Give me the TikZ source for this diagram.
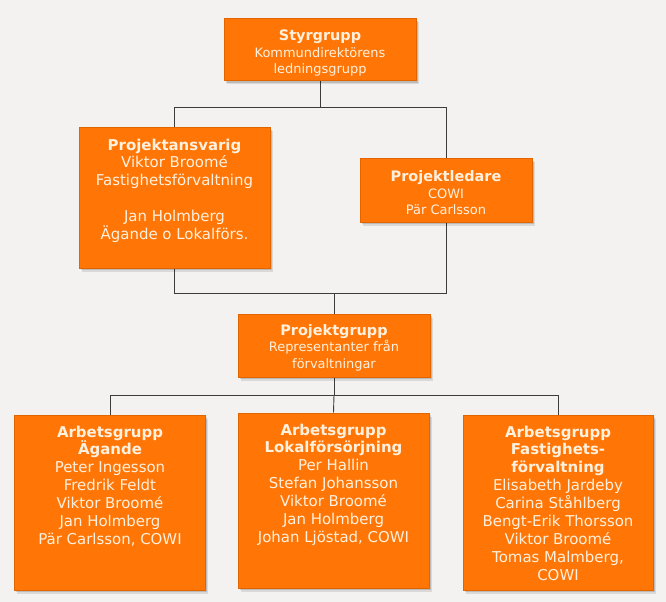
\documentclass[tikz,border=0pt]{standalone}
\usepackage{fontspec}
\setmainfont{DejaVu Sans}
\definecolor{bgc}{HTML}{F3F2F0}
\definecolor{boxc}{HTML}{FF7607}
\definecolor{rimc}{HTML}{E26500}
\definecolor{txtc}{HTML}{FFF1DE}
\definecolor{linec}{HTML}{3C3C3C}
\pgfdeclarelayer{bg}
\pgfdeclarelayer{lines}
\pgfsetlayers{bg,lines,main}
\tikzset{
  orgbox/.style={draw=rimc, line width=1bp, fill=boxc, inner sep=0pt,
    preaction={fill=black, opacity=0.10, transform canvas={xshift=2.5bp, yshift=-3.5bp}},
    preaction={fill=black, opacity=0.14, transform canvas={xshift=1.5bp, yshift=-2.2bp}}},
  lbl/.style={text=txtc, align=center, inner sep=0pt},
  smallfont/.style={font=\fontsize{13}{16.5}\selectfont},
  bigfont/.style={font=\fontsize{15}{18}\selectfont},
  conn/.style={draw=linec, line width=0.9bp},
}
\newcommand\ttlA[1]{{\bfseries\fontsize{14.5}{16.5}\selectfont #1}}
\newcommand\ttlB[1]{{\bfseries #1}}
\begin{document}
\begin{tikzpicture}[x=1bp,y=-1bp]
\begin{pgfonlayer}{bg}
  \fill[bgc] (0,0) rectangle (666,602);
\end{pgfonlayer}
\useasboundingbox (0,0) rectangle (666,602);

% boxes
\node[orgbox, minimum width=192bp, minimum height=62bp] (sty) at (320,50) {};
\node[lbl, smallfont] (styt) at ([yshift=-3bp]sty.center) {\ttlA{Styrgrupp}\\Kommundirektörens\\ledningsgrupp};

\node[orgbox, minimum width=191bp, minimum height=140bp] (pa) at (174.5,198) {};
\node[lbl, bigfont, anchor=north] (pat) at ([yshift=-11bp]pa.north) {\ttlB{Projektansvarig}\\Viktor Broomé\\Fastighetsförvaltning\\[18bp]Jan Holmberg\\Ägande o Lokalförs.};

\node[orgbox, minimum width=172bp, minimum height=63bp] (pl) at (446,190.5) {};
\node[lbl, smallfont] (plt) at ([yshift=-2.5bp]pl.center) {\ttlA{Projektledare}\\COWI\\Pär Carlsson};

\node[orgbox, minimum width=192bp, minimum height=63bp] (pg) at (334,345.5) {};
\node[lbl, smallfont] (pgt) at ([yshift=-2bp]pg.center) {\ttlA{Projektgrupp}\\Representanter från\\förvaltningar};

\node[orgbox, minimum width=190bp, minimum height=175bp] (b1) at (110,502.5) {};
\node[lbl, bigfont, anchor=north] (b1t) at ([yshift=-11bp]b1.north) {\ttlB{Arbetsgrupp}\\\ttlB{Ägande}\\Peter Ingesson\\Fredrik Feldt\\Viktor Broomé\\Jan Holmberg\\Pär Carlsson, COWI};

\node[orgbox, minimum width=191bp, minimum height=175bp] (b2) at (333.5,500.5) {};
\node[lbl, bigfont, anchor=north] (b2t) at ([yshift=-11bp]b2.north) {\ttlB{Arbetsgrupp}\\\ttlB{Lokalförsörjning}\\Per Hallin\\Stefan Johansson\\Viktor Broomé\\Jan Holmberg\\Johan Ljöstad, COWI};

\node[orgbox, minimum width=190bp, minimum height=175bp] (b3) at (558,502.5) {};
\node[lbl, bigfont, anchor=north] (b3t) at ([yshift=-11bp]b3.north) {\ttlB{Arbetsgrupp}\\\ttlB{Fastighets-}\\\ttlB{förvaltning}\\Elisabeth Jardeby\\Carina Ståhlberg\\Bengt-Erik Thorsson\\Viktor Broomé\\Tomas Malmberg,\\COWI};

% junctions
\coordinate (j1) at (320,107);
\coordinate (j2) at (334,293);
\coordinate (j3) at (334,395);

\begin{pgfonlayer}{lines}
  \draw[conn] (sty.south) -- (j1);
  \draw[conn] (j1) -| (pa.north);
  \draw[conn] (j1) -| (pl.north);
  \draw[conn] (pa.north) |- (j2);
  \draw[conn] (pl.north) |- (j2);
  \draw[conn] (j2) -- (pg.north);
  \draw[conn] (pg.south) -- (j3);
  \draw[conn] (j3) -| (b1.north);
  \draw[conn] (j3) -| (b3.north);
  \draw[conn] (j3) -- (b2.north);
\end{pgfonlayer}
\end{tikzpicture}
\end{document}
